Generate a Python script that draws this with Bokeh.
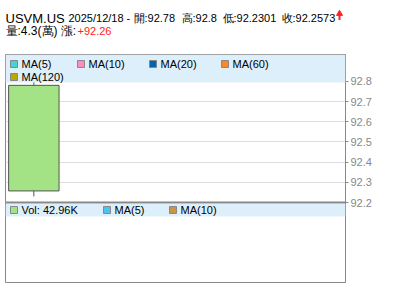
from bokeh.plotting import figure
from bokeh.layouts import column
from bokeh.models import Range1d, FixedTicker, BoxAnnotation, ColumnDataSource, Span
from bokeh.core.properties import value
from bokeh.embed import file_html
from bokeh.resources import INLINE

# ---- data ----
symbol = "USVM.US"
dates = ["2025/12/18"]
opens = [92.78]
highs = [92.8]
lows = [92.2301]
closes = [92.2573]
vol_text = "4.3(萬)"
vol_k = [42.96]
change = ["+92.26"]
candle_colors = ["#A3E386"]
y_ticks = [92.2, 92.3, 92.4, 92.5, 92.6, 92.7, 92.8]
ma_labels = ["MA(5)", "MA(10)", "MA(20)", "MA(60)", "MA(120)"]
ma_colors = ["#44D4D4", "#FF8CBF", "#0066B3", "#FF8422", "#B8A800"]
vol_labels = ["Vol: %.2fK" % vol_k[0], "MA(5)", "MA(10)"]
vol_colors = ["#A3E386", "#4FC3F0", "#C8944A"]

FONT = value("Liberation Sans")
RED = "#FF2222"

# ---- header (its frame is aligned with the chart frame: 5..345 px) ----
hdr = figure(width=400, height=53, x_range=Range1d(5, 345), y_range=Range1d(53, 0),
             output_backend="svg", toolbar_location=None,
             x_axis_location=None, y_axis_location=None,
             min_border_left=5, min_border_right=55, min_border_top=0, min_border_bottom=0,
             outline_line_color=None)
hdr.xgrid.visible = False
hdr.ygrid.visible = False

def htext(x, y, s, size, color="#000000", style="normal", font=FONT):
    hdr.text(x=[x], y=[y], text=[s], text_font=font, text_font_size=size,
             text_color=color, text_baseline="alphabetic", text_align="left",
             text_font_style=style)

htext(5, 17.5, symbol, "13px")
htext(68, 17.5, f"{dates[0]} -", "11px")
htext(133, 17.5, f"開:{opens[0]}", "11px")
htext(181, 17.5, f"高:{highs[0]}", "11px")
htext(222, 17.5, f"低:{lows[0]}", "11px")
htext(281, 17.5, f"收:{closes[0]}", "11px")
htext(5, 30, f"量:{vol_text} 漲:", "12px")
htext(77, 30, change[0], "11px", RED)
# up arrow icon
hdr.segment(x0=[339], y0=[19.5], x1=[339], y1=[13], line_color=RED, line_width=2)
hdr.scatter(x=[339], y=[13.2], marker="triangle", size=6, fill_color=RED, line_color=RED)

# ---- price + volume panel (one frame) ----
X0, X1 = -0.5, 5.5
FW = 340
FH = 228
UPP = 0.1 / 20.2
Y_BOT_PX = 202
Y0 = y_ticks[0] - (282 - Y_BOT_PX) * UPP
Y1 = y_ticks[0] + (Y_BOT_PX - 54) * UPP

p = figure(frame_width=FW, frame_height=FH, x_range=Range1d(X0, X1), y_range=Range1d(Y0, Y1),
           output_backend="svg", toolbar_location=None,
           x_axis_location=None, y_axis_location="right",
           min_border_left=5, min_border_top=1, min_border_bottom=19, min_border_right=55,
           outline_line_color="#888888", outline_line_width=1)
p.xgrid.visible = False
p.ygrid.grid_line_color = "#DDDDDD"
p.ygrid.ticker = FixedTicker(ticks=y_ticks)
ax = p.yaxis[0]
ax.ticker = FixedTicker(ticks=y_ticks)
ax.axis_line_color = "#888888"
ax.major_tick_line_color = "#888888"
ax.major_tick_out = 3
ax.major_tick_in = 0
ax.minor_tick_line_color = None
ax.major_label_text_color = "#888888"
ax.major_label_text_font = "Liberation Sans"
ax.major_label_text_font_size = "11px"
ax.major_label_standoff = 2

def mx(px):
    return X0 + (px - 5) / FW * (X1 - X0)

def my(px):
    return Y1 - (px - 54) * UPP

idx = list(range(len(opens)))
src = ColumnDataSource(dict(x=idx, o=opens, h=highs, l=lows, c=closes,
                            top=[max(a, b) for a, b in zip(opens, closes)],
                            bot=[min(a, b) for a, b in zip(opens, closes)],
                            col=candle_colors))
p.segment(x0="x", y0="l", x1="x", y1="h", source=src, line_color="#555555", line_width=1)
p.vbar(x="x", bottom="bot", top="top", width=0.89, source=src, fill_color="col",
       line_color="#555555", line_width=1)

p.add_layout(BoxAnnotation(bottom=my(82), fill_color="#DDEFFA", fill_alpha=1, line_color=None))
p.add_layout(BoxAnnotation(top=my(203.5), bottom=my(216), fill_color="#DDEFFA", fill_alpha=1,
                           line_color=None))
p.add_layout(Span(location=y_ticks[0], dimension="width", line_color="#888888", line_width=2))

main_pos = [(13.5, 63.5), (80.5, 63.5), (152.5, 63.5), (224.5, 63.5), (13.5, 76.5)]
vol_pos = [(13.5, 209.5), (106.5, 209.5), (172.5, 209.5)]
for pos, labs, cols in ((main_pos, ma_labels, ma_colors), (vol_pos, vol_labels, vol_colors)):
    for (sx, sy), lab, colr in zip(pos, labs, cols):
        p.scatter(x=[mx(sx)], y=[my(sy)], marker="square", size=7, fill_color=colr,
                  line_color="#888888", line_width=1, level="overlay")
        p.text(x=[mx(sx + 7.5)], y=[my(sy)], text=[lab], text_font=FONT, text_font_size="11px",
               text_color="#000000", text_baseline="middle", text_align="left", level="overlay")

layout = column(hdr, p, spacing=0)
open("out.html", "w").write(file_html(layout, INLINE))
